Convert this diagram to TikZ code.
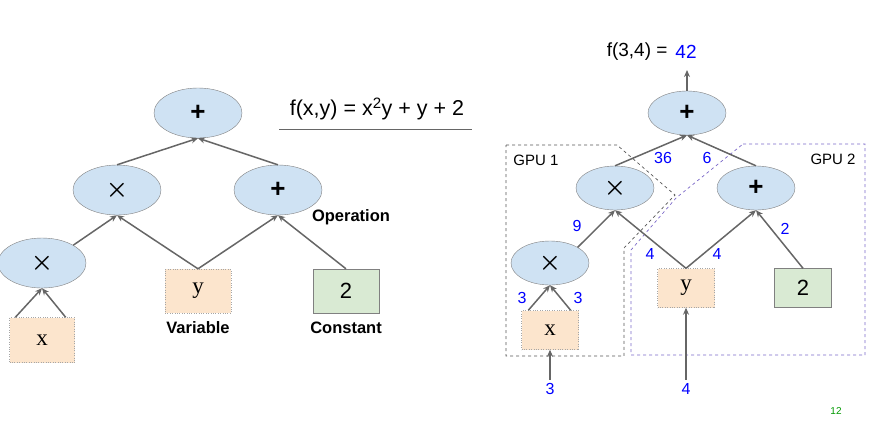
\documentclass[tikz,border=0pt]{standalone}
\usepackage{fontspec}
\setmainfont{Liberation Sans}
\newfontfamily\seriffont{Liberation Serif}
\usetikzlibrary{shapes.geometric,arrows.meta}
\definecolor{opfill}{HTML}{CFE2F3}
\definecolor{varfill}{HTML}{FCE5CD}
\definecolor{cstfill}{HTML}{D9EAD3}
\definecolor{edgegray}{HTML}{666666}
\definecolor{gpuone}{HTML}{555555}
\definecolor{gputwo}{HTML}{7B68C8}
\begin{document}
\begin{tikzpicture}[x=1pt,y=-1pt]
	\tikzset{op/.style = {ellipse, draw=gray, fill=opfill, font=\bfseries\boldmath\fontsize{26}{26}\selectfont}}
	\tikzset{var/.style = {draw=gray!70, dotted, fill=varfill, font=\seriffont\fontsize{23}{23}\selectfont}}
	\tikzset{cst/.style = {draw=gray, fill=cstfill, font=\fontsize{22}{22}\selectfont}}
	\tikzset{edge/.style = {-{Stealth[length=7pt,width=6pt]}, draw=edgegray, line width=1.5pt}}
	\tikzset{val/.style = {text=blue, font=\fontsize{16}{16}\selectfont}}
	\tikzset{tag/.style = {font=\bfseries\fontsize{16.5}{16.5}\selectfont}}
	\useasboundingbox (0,0) rectangle (878,424);
	
	% left: the graph
	\node[op, minimum width=88, minimum height=50]  (top) at (198,113) {+};
	\node[op, minimum width=88, minimum height=50]  (mul) at (117,190) {$\times$};
	\node[op, minimum width=88, minimum height=50]  (add) at (278,190) {+};
	\node[op, minimum width=88, minimum height=50]  (sq)  at ( 42,263) {$\times$};
	\node[var, minimum width=65, minimum height=45] (x)   at ( 42,340) {x};
	\node[var, minimum width=66, minimum height=44] (y)   at (198,291) {y};
	\node[cst, minimum width=66, minimum height=44] (c)   at (346,291) {2};
	
	\node[tag] (optag)  at (351,217) {Operation};
	\node[tag] (vartag) at (198,328) {Variable};
	\node[tag] (csttag) at (346,328) {Constant};
	\node[font=\fontsize{21.5}{21.5}\selectfont] (fxy) at (377,109) {f(x,y) = x\textsuperscript{2}y + y + 2};
	\coordinate (ruleA) at (279,129);
	\coordinate (ruleB) at (472,129);
	\draw[edgegray] (ruleA) -- (ruleB);
	
	\draw[edge] (x.north west) ++(6,0) coordinate (xa) -- (sq.south);
	\draw[edge] (x.north east) ++(-9,0) coordinate (xb) -- (sq.south);
	\draw[edge] (sq.north east) -- (mul.south);
	\draw[edge] (y.north) -- (mul.south);
	\draw[edge] (y.north) -- (add.south);
	\draw[edge] (c.north) -- (add.south);
	\draw[edge] (mul.north) -- (top.south);
	\draw[edge] (add.north) -- (top.south);
	
	% right: split over two GPUs
	\draw[gpuone, dashed, line width=0.7pt] (506,145) -- (617,145) -- (675,195) -- (624,248) -- (624,356) -- (506,356) -- cycle;
	\draw[gputwo, dashed, line width=0.7pt] (743,144) -- (865,144) -- (865,355) -- (631,355) -- (631,250) -- (676,198) -- cycle;
	\node[font=\fontsize{15}{15}\selectfont] (g1) at (536,160) {GPU 1};
	\node[font=\fontsize{15}{15}\selectfont] (g2) at (833,159) {GPU 2};
	
	\node[op, minimum width=78, minimum height=44]  (rtop) at (687,113) {+};
	\node[op, minimum width=78, minimum height=44]  (rmul) at (615,188) {$\times$};
	\node[op, minimum width=78, minimum height=44]  (radd) at (756,188) {+};
	\node[op, minimum width=78, minimum height=44]  (rsq)  at (550,263) {$\times$};
	\node[var, minimum width=57, minimum height=39] (rx)   at (550,330) {x};
	\node[var, minimum width=57, minimum height=39] (ry)   at (686,288) {y};
	\node[cst, minimum width=57, minimum height=39] (rc)   at (803,288) {2};
	
	\node[font=\fontsize{19}{19}\selectfont, anchor=east] (res) at (671,52) {f(3,4) =};
	\node[val, font=\fontsize{19}{19}\selectfont] (resv) at (686,52) {42};
	\coordinate (out) at (687,70);
	\node[val] (in3) at (550,389) {3};
	\node[val] (in4) at (686,389) {4};
	
	\draw[edge] (rtop.north) -- (out);
	\draw[edge] (in3.north) -- (rx.south);
	\draw[edge] (in4.north) -- (ry.south);
	\draw[edge] (rx.north west) ++(7,0) coordinate (rxa) -- (rsq.south);
	\draw[edge] (rx.north east) ++(-8,0) coordinate (rxb) -- (rsq.south);
	\draw[edge] (rsq.north east) -- (rmul.south);
	\draw[edge] (ry.north) -- (rmul.south);
	\draw[edge] (ry.north) -- (radd.south);
	\draw[edge] (rc.north) -- (radd.south);
	\draw[edge] (rmul.north) -- (rtop.south);
	\draw[edge] (radd.north) -- (rtop.south);
	
	\node[val] (v36) at (663,158) {36};
	\node[val] (v6)  at (707,158) {6};
	\node[val] (v9)  at (577,226) {9};
	\node[val] (v4a) at (650,254) {4};
	\node[val] (v4b) at (717,254) {4};
	\node[val] (v2)  at (785,229) {2};
	\node[val] (v3a) at (522,298) {3};
	\node[val] (v3b) at (578,298) {3};
	\node[text=green!60!black, font=\fontsize{10}{10}\selectfont] (page) at (836,411) {12};
\end{tikzpicture}
\end{document}
